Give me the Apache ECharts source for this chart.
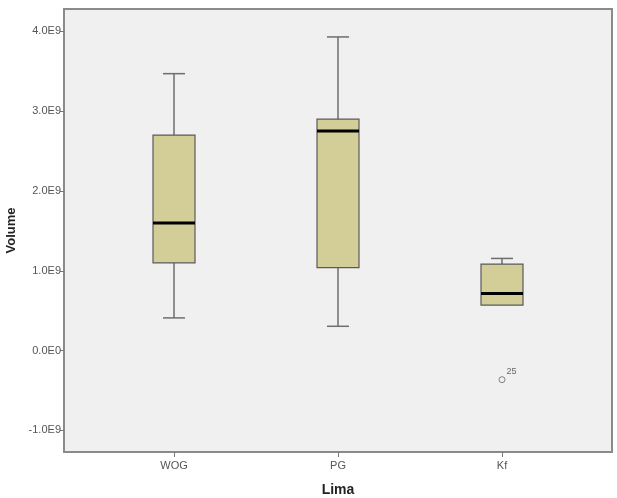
<!DOCTYPE html>
<html>
<head>
<meta charset="utf-8">
<script src="https://cdn.jsdelivr.net/npm/echarts@6/dist/echarts.min.js"></script>
<style>
  html, body { margin: 0; padding: 0; background: #fff; }
  #chart { width: 617px; height: 498px; }
</style>
</head>
<body>
<div id="chart"></div>
<script>
// categories and box statistics (units: volume)
var categories = ['WOG', 'PG', 'Kf'];
var whiskerLow  = [0.41e9, 0.305e9, 0.569e9];
var q1          = [1.10e9, 1.04e9, 0.569e9];
var median      = [1.60e9, 2.75e9, 0.716e9];
var q3          = [2.70e9, 2.90e9, 1.084e9];
var whiskerHigh = [3.47e9, 3.93e9, 1.155e9];
// outliers: [category index, value, case label]
var outliers = [[2, -0.364e9, '25']];
var yTicks = [-1e9, 0, 1e9, 2e9, 3e9, 4e9];

var yMin = -1.27e9, yMax = 4.28e9;

function fmtSci(v) {
  if (v === 0) return '0.0E0';
  var e = Math.floor(Math.log10(Math.abs(v)));
  var m = v / Math.pow(10, e);
  return m.toFixed(1) + 'E' + e;
}

var boxData = categories.map(function (c, i) {
  return [i, whiskerLow[i], q1[i], median[i], q3[i], whiskerHigh[i]];
});

var chart = echarts.init(document.getElementById('chart'));
chart.setOption({
  backgroundColor: '#fff',
  animation: false,
  grid: [
    { left: 64, right: 5, top: 9, bottom: 46, show: true, backgroundColor: '#f0f0f0',
      borderColor: '#8a8a8a', borderWidth: 2, outerBoundsMode: 'none', containLabel: false },
    { left: 92, width: 492, top: 9, bottom: 46, outerBoundsMode: 'none', containLabel: false }
  ],
  xAxis: [
    { gridIndex: 0, type: 'value', min: 0, max: 1, show: false },
    { gridIndex: 1, type: 'category', data: categories,
      name: 'Lima', nameLocation: 'middle', nameGap: 31,
      nameTextStyle: { fontFamily: 'Liberation Sans', fontWeight: 'bold', fontSize: 14, color: '#222' },
      axisLine: { show: false, onZero: false },
      axisTick: { show: true, alignWithLabel: true, length: 5, lineStyle: { color: '#777' } },
      axisLabel: { fontFamily: 'Liberation Sans', fontSize: 11, color: '#555', margin: 8 },
      splitLine: { show: false } }
  ],
  yAxis: [
    { gridIndex: 0, type: 'value', min: yMin, max: yMax,
      name: 'Volume', nameLocation: 'middle', nameGap: 46, nameRotate: 90,
      nameTextStyle: { fontFamily: 'Liberation Sans', fontWeight: 'bold', fontSize: 13, color: '#222' },
      axisLine: { show: false, onZero: false },
      axisTick: { show: true, length: 4, lineStyle: { color: '#777' },
        customValues: yTicks },
      axisLabel: { fontFamily: 'Liberation Sans', fontSize: 11, color: '#555', margin: 3,
        customValues: yTicks, formatter: fmtSci },
      splitLine: { show: false } },
    { gridIndex: 1, type: 'value', min: yMin, max: yMax, show: false }
  ],
  series: [
    {
      type: 'custom',
      xAxisIndex: 1, yAxisIndex: 1,
      data: boxData,
      renderItem: function (params, api) {
        var i = api.value(0);
        var c = api.coord([i, 0])[0];
        var half = 21, cap = 11;
        var yl = api.coord([i, api.value(1)])[1];
        var y1 = api.coord([i, api.value(2)])[1];
        var ym = api.coord([i, api.value(3)])[1];
        var y3 = api.coord([i, api.value(4)])[1];
        var yh = api.coord([i, api.value(5)])[1];
        var wStyle = { stroke: '#6e6e6e', lineWidth: 1.5 };
        var children = [
          { type: 'line', shape: { x1: c, y1: yh, x2: c, y2: y3 }, style: wStyle },
          { type: 'line', shape: { x1: c, y1: y1, x2: c, y2: yl }, style: wStyle },
          { type: 'line', shape: { x1: c - cap, y1: yh, x2: c + cap, y2: yh }, style: wStyle },
          { type: 'rect', shape: { x: c - half, y: y3, width: half * 2, height: y1 - y3 },
            style: { fill: '#d3ce97', stroke: '#5a5a5a', lineWidth: 1.2 } },
          { type: 'line', shape: { x1: c - half, y1: ym, x2: c + half, y2: ym },
            style: { stroke: '#000', lineWidth: 3 } }
        ];
        if (Math.abs(yl - y1) > 1) {
          children.push({ type: 'line', shape: { x1: c - cap, y1: yl, x2: c + cap, y2: yl }, style: wStyle });
        }
        return { type: 'group', children: children };
      }
    },
    {
      type: 'scatter',
      xAxisIndex: 1, yAxisIndex: 1,
      data: outliers.map(function (o) { return { value: [o[0], o[1]], name: o[2] }; }),
      symbol: 'circle', symbolSize: 6,
      itemStyle: { color: '#f0f0f0', borderColor: '#666', borderWidth: 1 },
      label: { show: true, position: [8, -9], formatter: '{b}',
        fontFamily: 'Liberation Sans', fontSize: 9, color: '#444' }
    }
  ]
});
</script>
</body>
</html>
